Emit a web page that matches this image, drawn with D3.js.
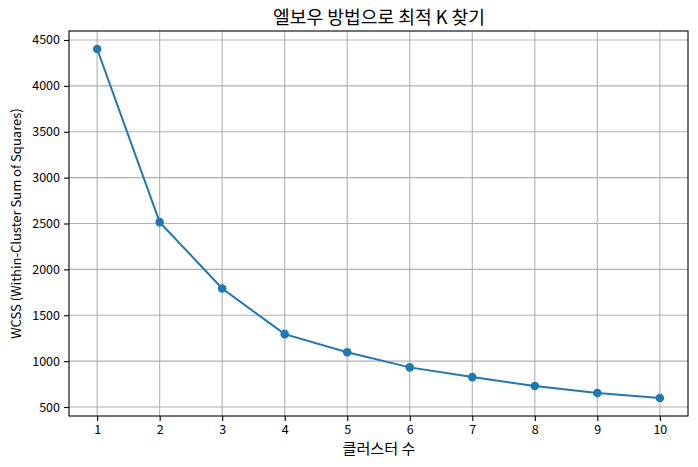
<!DOCTYPE html>
<html><head><meta charset="utf-8">
<script src="https://cdn.jsdelivr.net/npm/d3@7"></script>
<style>
body{margin:0;background:#fff;}
text{font-family:"Noto Sans CJK KR","Noto Sans",sans-serif;}
</style></head>
<body><svg id="c" width="698" height="467"></svg>
<script>
const ks = [1,2,3,4,5,6,7,8,9,10];
const wcss = [4402, 2515, 1792, 1294, 1097, 932, 826, 729, 652, 598];
const yTicks = [500,1000,1500,2000,2500,3000,3500,4000,4500];
const title = "엘보우 방법으로 최적 K 찾기";
const xLabel = "클러스터 수";
const yLabel = "WCSS (Within-Cluster Sum of Squares)";

const svg = d3.select("#c");
const L=69, R=688, T=31, B=416;
const x = d3.scaleLinear().domain([0.55,10.45]).range([L,R]);
const y = d3.scaleLinear().domain([402,4598]).range([B,T]);

// grid
const g = svg.append("g");
g.selectAll(".gx").data(ks).enter().append("line")
 .attr("x1",d=>x(d)).attr("x2",d=>x(d)).attr("y1",T).attr("y2",B)
 .attr("stroke","#b0b0b0").attr("stroke-width",1.1);
g.selectAll(".gy").data(yTicks).enter().append("line")
 .attr("y1",d=>y(d)).attr("y2",d=>y(d)).attr("x1",L).attr("x2",R)
 .attr("stroke","#b0b0b0").attr("stroke-width",1.1);

// axes
const xa = svg.append("g").attr("transform",`translate(0,${B})`)
 .call(d3.axisBottom(x).tickValues(ks).tickSize(5).tickPadding(4).tickFormat(d3.format("d")));
const ya = svg.append("g").attr("transform",`translate(${L},0)`)
 .call(d3.axisLeft(y).tickValues(yTicks).tickSize(5).tickPadding(4).tickFormat(d3.format("d")));
[xa,ya].forEach(a=>{a.select(".domain").remove();
 a.selectAll("text").attr("font-size",12.5).attr("fill","#000").style("font-family",'"Noto Sans CJK KR",sans-serif');
 a.selectAll("line").attr("stroke","#000").attr("stroke-width",1.1);});

// spines
svg.append("rect").attr("x",L).attr("y",T).attr("width",R-L).attr("height",B-T)
 .attr("fill","none").attr("stroke","#000").attr("stroke-width",1.1);

// line
const line = d3.line().x((d,i)=>x(ks[i])).y(d=>y(d));
svg.append("path").datum(wcss).attr("d",line).attr("fill","none")
 .attr("stroke","#1f77b4").attr("stroke-width",2);
svg.selectAll(".pt").data(wcss).enter().append("circle")
 .attr("cx",(d,i)=>x(ks[i])).attr("cy",d=>y(d)).attr("r",4.3).attr("fill","#1f77b4");

// labels
svg.append("text").attr("x",379).attr("y",24).attr("text-anchor","middle")
 .attr("font-size",18).attr("textLength",212).attr("lengthAdjust","spacingAndGlyphs").text(title);
svg.append("text").attr("x",379).attr("y",454).attr("text-anchor","middle")
 .attr("font-size",14.5).attr("textLength",73).attr("lengthAdjust","spacingAndGlyphs").text(xLabel);
svg.append("text").attr("transform",`translate(21,${(T+B)/2}) rotate(-90)`).attr("text-anchor","middle")
 .attr("font-size",13).text(yLabel);
</script></body></html>
